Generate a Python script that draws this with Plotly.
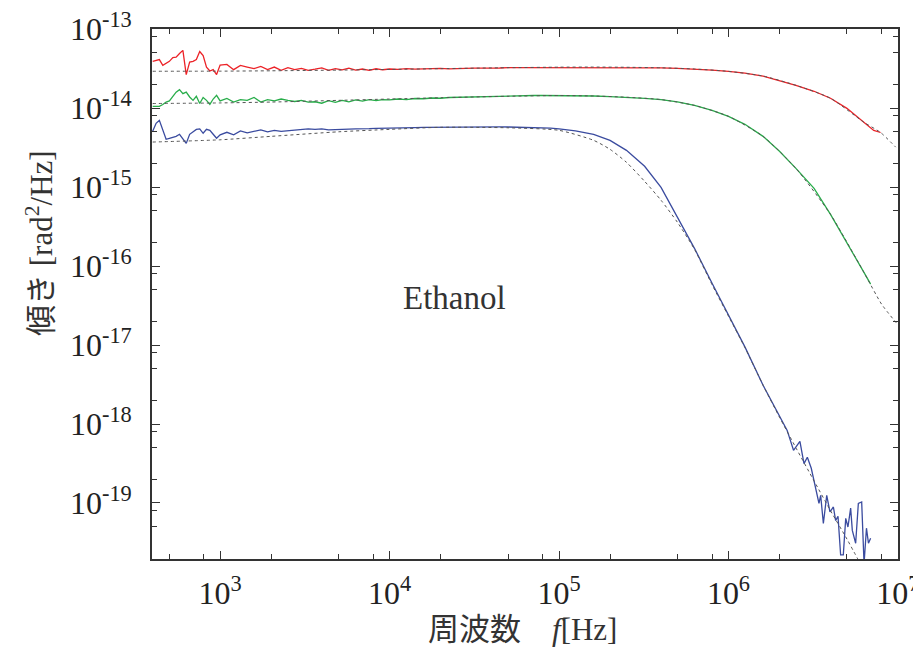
import plotly.graph_objects as go

# Phase-noise (tilt) spectra of ethanol; PSD values in units of 1e-14 rad^2/Hz
UNIT = 1e-14

# shared frequency grids [Hz]
f_low = [400, 419, 438, 459, 480, 502, 526, 550, 576, 603, 631, 661, 692, 724,
         758, 794, 831, 870, 910, 953, 1000]
f_mid = [1096, 1202, 1318, 1445, 1585, 1738, 1905, 2089, 2291, 2512, 2754, 3020,
         3311, 3631, 3981, 4365, 4786, 5248, 5754, 6310, 6918, 7586, 8318, 9120, 10000]
f_high = [11220, 12589, 14125, 15849, 17783, 19953, 22387, 25119, 28184, 31623,
          35481, 39811, 44668, 50119, 56234, 63096, 70795, 79433, 89125, 100000]

# --- red spectrum ---
red_low = [3.9, 4.0, 4.1, 3.47, 3.65, 3.9, 4.35, 4.4, 4.89, 5.37, 2.65, 3.82, 3.9,
           4.1, 5.2, 4.6, 3.3, 2.94, 3.06, 2.65, 3.5]
red_mid = [3.57, 3.06, 3.47, 3.3, 3.15, 3.37, 3.06, 3.3, 3.0, 3.24, 3.06, 3.18, 3.0,
           3.1, 3.22, 3.0, 3.15, 3.05, 3.2, 3.02, 3.12, 3.0, 3.14, 3.05, 3.12]
red_high = [3.08, 3.15, 3.1, 3.14, 3.12, 3.18, 3.13, 3.18, 3.17, 3.2, 3.19, 3.22,
            3.21, 3.24, 3.24, 3.26, 3.26, 3.27, 3.28, 3.29]
red_roll_f = [1.25e5, 1.6e5, 2e5, 2.5e5, 3.2e5, 4e5, 5e5, 6.3e5, 8e5, 1e6, 1.25e6,
              1.6e6, 2e6, 2.5e6, 3.2e6, 4e6, 5e6, 6.3e6, 7.2e6, 7.9e6]
red_roll = [3.30, 3.30, 3.29, 3.28, 3.26, 3.23, 3.18, 3.12, 3.02, 2.91, 2.77, 2.54,
            2.24, 1.94, 1.63, 1.33, 0.99, 0.66, 0.52, 0.49]

# --- green spectrum ---
green_low = [1.05, 1.05, 1.05, 1.11, 1.19, 1.23, 1.38, 1.59, 1.71, 1.52, 1.59, 1.38,
             1.25, 1.41, 1.14, 1.36, 1.25, 1.11, 1.30, 1.45, 1.23]
green_mid = [1.32, 1.19, 1.28, 1.25, 1.36, 1.19, 1.28, 1.23, 1.30, 1.25, 1.21, 1.25,
             1.19, 1.2, 1.15, 1.24, 1.18, 1.25, 1.2, 1.27, 1.22, 1.28, 1.24, 1.28, 1.27]
green_high = [1.3, 1.28, 1.32, 1.31, 1.34, 1.33, 1.36, 1.37, 1.38, 1.39, 1.40, 1.41,
              1.42, 1.43, 1.43, 1.44, 1.44, 1.44, 1.44, 1.45]
green_roll_f = [1.25e5, 1.6e5, 2e5, 2.5e5, 3.2e5, 4e5, 5e5, 6.3e5, 8e5, 1e6, 1.25e6,
                1.6e6, 2e6, 2.5e6, 3.2e6, 4e6, 5e6, 6.3e6, 6.9e6]
green_roll = [1.436, 1.419, 1.394, 1.366, 1.327, 1.278, 1.198, 1.082, 0.935, 0.785,
              0.622, 0.438, 0.283, 0.172, 0.0963, 0.0451, 0.0200, 0.0083, 0.0059]

# --- blue spectrum ---
blue_low = [0.507, 0.640, 0.699, 0.522, 0.402, 0.414, 0.426, 0.438, 0.465, 0.402,
            0.357, 0.465, 0.507, 0.537, 0.545, 0.479, 0.537, 0.522, 0.465, 0.414, 0.458]
blue_mid = [0.493, 0.458, 0.514, 0.485, 0.507, 0.530, 0.500, 0.522, 0.507, 0.514,
            0.530, 0.533, 0.545, 0.537, 0.545, 0.530, 0.537, 0.533, 0.541, 0.545,
            0.541, 0.548, 0.552, 0.556, 0.556]
blue_high = [0.56, 0.563, 0.565, 0.568, 0.57, 0.572, 0.574, 0.575, 0.576, 0.577,
             0.577, 0.577, 0.576, 0.575, 0.573, 0.57, 0.566, 0.56, 0.555, 0.545]
blue_roll_f = [1.25e5, 1.6e5, 2e5, 2.5e5, 3.2e5, 4e5, 5e5, 6.3e5, 8e5, 1e6, 1.25e6,
               1.6e6, 2e6, 2.22e6, 2.42e6, 2.64e6, 2.79e6, 2.92e6, 3.08e6, 3.19e6,
               3.31e6, 3.42e6, 3.50e6, 3.63e6, 3.80e6, 3.97e6, 4.16e6, 4.29e6, 4.43e6,
               4.59e6, 4.76e6, 4.92e6, 5.07e6, 5.26e6, 5.38e6, 5.63e6, 5.84e6, 6.11e6,
               6.31e6, 6.52e6, 6.70e6, 6.90e6]
blue_roll = [0.514, 0.465, 0.390, 0.291, 0.183, 0.0991, 0.0413, 0.01675, 0.00604,
             0.00238, 0.000946, 0.000309, 0.000127, 8.3e-5, 4.65e-5, 6.04e-5, 3.15e-5,
             3.79e-5, 2.75e-5, 1.94e-5, 1.45e-5, 9.9e-6, 1.25e-5, 5.5e-6, 1.25e-5,
             7.7e-6, 8.9e-6, 6.0e-6, 6.8e-6, 2.2e-6, 2.2e-6, 6.4e-6, 4.97e-6, 8.6e-6,
             4.5e-6, 3.09e-6, 9.9e-6, 1.03e-5, 1.7e-6, 4.8e-6, 3.09e-6, 3.57e-6]

# --- model fits ---
red_fit_f = [400, 1000, 2000, 5000, 1e4, 2e4, 5e4, 1e5, 1.6e5, 2.5e5, 4e5, 6.3e5,
             1e6, 1.6e6, 2.5e6, 4e6, 6.3e6, 7.9e6, 9.7e6]
red_fit = [2.92, 2.93, 2.96, 3.02, 3.08, 3.15, 3.24, 3.29, 3.30, 3.28, 3.23, 3.12,
           2.91, 2.54, 1.94, 1.33, 0.66, 0.49, 0.32]
green_fit_f = [400, 1000, 2000, 5000, 1e4, 2e4, 5e4, 1e5, 1.6e5, 2.5e5, 4e5, 6.3e5,
               1e6, 1.6e6, 2.5e6, 4e6, 6.3e6, 8e6, 1e7]
green_fit = [1.14, 1.16, 1.19, 1.25, 1.30, 1.35, 1.41, 1.44, 1.42, 1.37, 1.28, 1.08,
             0.785, 0.438, 0.172, 0.0451, 0.0083, 0.0033, 0.0018]
blue_fit_f = [400, 1000, 2000, 5000, 1e4, 2e4, 5e4, 1e5, 1.6e5, 2e5, 2.5e5, 3.2e5,
              4e5, 5e5, 6.3e5, 8e5, 1e6, 1.25e6, 1.6e6, 2e6, 2.5e6, 3.2e6, 4e6, 5e6, 6.3e6]
blue_fit = [0.371, 0.396, 0.438, 0.50, 0.537, 0.570, 0.562, 0.522, 0.390, 0.300,
            0.2055, 0.118, 0.068, 0.0357, 0.0163, 0.0058, 0.00232, 0.00093, 0.00031,
            0.000122, 5.0e-5, 1.9e-5, 8.0e-6, 3.5e-6, 1.4e-6]

x_ticks = [1e3, 1e4, 1e5, 1e6, 1e7]
x_tick_text = ["10<sup>3</sup>", "10<sup>4</sup>", "10<sup>5</sup>",
               "10<sup>6</sup>", "10<sup>7</sup>"]
y_ticks = [1e-19, 1e-18, 1e-17, 1e-16, 1e-15, 1e-14, 1e-13]
y_tick_text = ["10<sup>-19</sup>", "10<sup>-18</sup>", "10<sup>-17</sup>",
               "10<sup>-16</sup>", "10<sup>-15</sup>", "10<sup>-14</sup>",
               "10<sup>-13</sup>"]

RED, GREEN, BLUE = "#ec2227", "#28ad4a", "#3a4b9f"
FIT = "#555555"
AXIS = "#333333"
SERIF = "Liberation Serif"
CJK = "Noto Sans CJK JP"


def scaled(vals):
    return [v * UNIT for v in vals]


fig = go.Figure()

spectra = [
    (f_low + f_mid + f_high + red_roll_f, red_low + red_mid + red_high + red_roll, RED),
    (f_low + f_mid + f_high + green_roll_f, green_low + green_mid + green_high + green_roll, GREEN),
    (f_low + f_mid + f_high + blue_roll_f, blue_low + blue_mid + blue_high + blue_roll, BLUE),
]
for f, s, c in spectra:
    fig.add_trace(go.Scatter(x=f, y=scaled(s), mode="lines",
                             line=dict(color=c, width=1.3), hoverinfo="skip"))

for f, s in [(red_fit_f, red_fit), (green_fit_f, green_fit), (blue_fit_f, blue_fit)]:
    fig.add_trace(go.Scatter(x=f, y=scaled(s), mode="lines",
                             line=dict(color=FIT, width=1, dash="3px,3px",
                                       shape="spline", smoothing=0.6),
                             hoverinfo="skip"))

x_minor = [m * 10 ** n for n in range(2, 7) for m in (2, 5, 8)]
y_minor = [m * 10.0 ** n for n in range(-20, -13) for m in (2, 5, 8)]

axis_common = dict(
    type="log", showgrid=False, zeroline=False, automargin=False,
    showline=True, linecolor=AXIS, linewidth=1.6, mirror="allticks",
    ticks="inside", ticklen=8, tickwidth=1.3, tickcolor=AXIS,
    tickmode="array", ticklabeloverflow="allow",
    tickfont=dict(family=SERIF, size=32, color="#222222"),
)

fig.update_xaxes(
    **axis_common,
    range=[2.598, 7.0004],
    tickvals=x_ticks, ticktext=x_tick_text,
    ticklabelstandoff=5,
    minor=dict(tickmode="array", tickvals=x_minor, ticks="inside", ticklen=5,
               tickwidth=1.2, tickcolor=AXIS, showgrid=False),
)
fig.update_yaxes(
    **axis_common,
    range=[-19.709, -12.9996],
    tickvals=y_ticks, ticktext=y_tick_text,
    ticklabelstandoff=12,
    minor=dict(tickmode="array", tickvals=y_minor, ticks="inside", ticklen=5,
               tickwidth=1.2, tickcolor=AXIS, showgrid=False),
)

fig.update_layout(
    width=913, height=648,
    margin=dict(l=152, r=15, t=29, b=89),
    paper_bgcolor="white", plot_bgcolor="white",
    showlegend=False,
    font=dict(family=SERIF, color="#333333"),
    annotations=[
        dict(text="Ethanol", xref="paper", yref="paper", x=0.406, y=0.492,
             showarrow=False, font=dict(family=SERIF, size=33, color="#333333"),
             xanchor="center", yanchor="middle"),
        dict(text=f'<span style="font-family:{CJK}">周波数　</span><i>f</i>[Hz]',
             xref="paper", yref="paper", x=0.497, y=-0.128,
             showarrow=False, font=dict(family=SERIF, size=31, color="#333333"),
             xanchor="center", yanchor="middle"),
        dict(text=f'<span style="font-family:{CJK}">傾き</span> [rad<sup>2</sup>/Hz]',
             xref="paper", yref="paper", x=-0.153, y=0.596, textangle=-90,
             showarrow=False, font=dict(family=SERIF, size=31, color="#333333"),
             xanchor="center", yanchor="middle"),
    ],
)

fig.write_html("out.html")
